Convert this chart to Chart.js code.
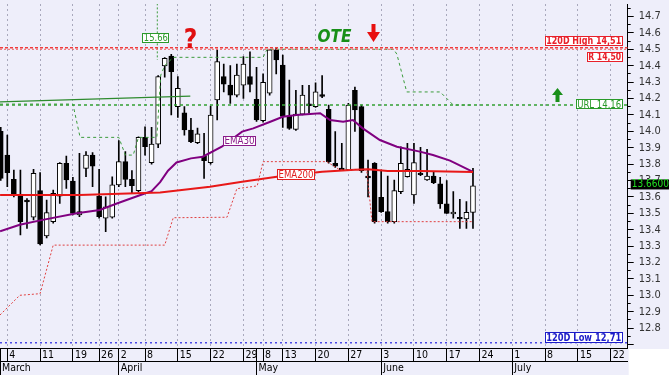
<!DOCTYPE html>
<html><head><meta charset="utf-8">
<script src="https://cdn.jsdelivr.net/npm/chart.js@4.4.1/dist/chart.umd.min.js"></script>
<style>html,body{margin:0;padding:0;background:#fff;overflow:hidden}#wrap{width:669px;height:375px;position:relative}canvas{display:block}</style>
</head><body><div id="wrap"><canvas id="c" width="669" height="375"></canvas></div>
<script>
// ---------- DATA ----------
const firstIndex = -1; // trading-day index of first candle
const openP  = [14.00,13.855,13.707,13.605,13.581,13.476,13.638,13.362,13.449,13.605,13.805,13.697,13.49,13.774,13.855,13.605,13.470,13.476,13.673,13.815,13.707,13.638,13.963,13.809,13.922,14.398,14.459,14.150,14.113,14.008,13.931,13.849,13.809,14.191,14.333,14.282,14.221,14.282,14.333,14.195,14.065,14.232,14.496,14.404,14.093,14.012,14.105,14.168,14.150,14.224,14.134,13.805,13.776,13.764,14.25,14.150,13.727,13.805,13.598,13.510,13.449,13.632,13.723,13.612,13.745,13.703,13.727,13.679,13.557,13.496,13.476,13.466,13.506];
const highP  = [14.024,13.977,13.764,13.764,13.59,13.768,13.748,13.581,13.642,13.81,13.849,13.72,13.866,13.876,13.87,13.768,13.60,13.723,13.944,13.876,13.76,13.967,14.028,14.024,14.34,14.45,14.47,14.333,14.15,14.079,14.02,13.988,14.154,14.496,14.41,14.40,14.41,14.455,14.485,14.39,14.35,14.50,14.51,14.465,14.313,14.25,14.28,14.28,14.296,14.34,14.16,13.998,13.927,14.17,14.27,14.16,13.825,13.81,13.764,13.727,13.703,13.906,13.927,13.927,13.902,13.890,13.75,13.72,13.699,13.632,13.585,13.571,13.774];
const lowP   = [13.70,13.662,13.60,13.368,13.408,13.46,13.307,13.35,13.44,13.561,13.652,13.49,13.48,13.723,13.662,13.47,13.388,13.47,13.662,13.662,13.622,13.63,13.855,13.80,13.90,14.33,14.10,14.085,13.977,13.93,13.925,13.713,13.80,14.069,14.24,14.17,14.21,14.20,14.24,14.06,14.055,14.22,14.35,14.024,14.012,14.005,14.10,14.11,14.145,14.205,13.805,13.78,13.76,13.76,14.0,13.75,13.60,13.44,13.505,13.44,13.44,13.62,13.72,13.561,13.73,13.70,13.68,13.530,13.50,13.470,13.408,13.408,13.408];
const closeP = [13.713,13.748,13.618,13.449,13.570,13.744,13.313,13.504,13.622,13.805,13.703,13.500,13.51,13.855,13.788,13.480,13.540,13.673,13.815,13.707,13.668,13.963,13.906,13.922,14.333,14.445,14.363,14.262,14.008,13.937,13.984,13.821,14.099,14.425,14.288,14.221,14.343,14.410,14.286,14.069,14.299,14.496,14.435,14.091,14.018,14.105,14.221,14.156,14.241,14.212,13.815,13.788,13.764,14.160,14.13,13.760,13.715,13.449,13.510,13.449,13.638,13.805,13.768,13.809,13.735,13.727,13.687,13.557,13.500,13.508,13.466,13.506,13.667];

const ema30Idx = [-1.1,1.9,5.4,10.6,14.1,16.7,20.2,22.0,23.3,24.5,25.8,28.0,29.8,32.7,35.8,37.5,40.1,42.0,44.1,47.7,49.2,51.2,52.7,54.2,56.8,59.4,62.9,64.9,67.5,71.0];
const ema30Val = [13.39,13.43,13.46,13.50,13.52,13.56,13.61,13.635,13.69,13.76,13.81,13.835,13.845,13.906,13.998,14.018,14.058,14.089,14.099,14.11,14.069,14.058,14.069,14.018,13.947,13.906,13.876,13.855,13.821,13.752];
const ema200Idx = [-1.1,11,23.3,30.9,35.8,41.1,48,53,55,58,63,71];
const ema200Val = [13.612,13.612,13.627,13.662,13.693,13.723,13.754,13.765,13.768,13.758,13.758,13.752];
const upperIdx = [-1.11,10.0,11.1,17.0,18.0,19.2,20.0,22.8,23.4,24.0,25.3,39.0,39.6,58.9,59.4,60.9,66.0,68.0,71.0];
const upperVal = [14.166,14.166,13.963,13.963,13.855,13.855,13.963,13.963,14.343,14.40,14.451,14.451,14.50,14.50,14.47,14.24,14.24,14.16,14.16];
const lowerIdx = [-1.11,1.9,5.0,7.0,24.0,25.3,33.5,35.0,38.1,39.0,48.7,50.7,54.8,55.6,71.0];
const lowerVal = [12.88,13.00,13.01,13.306,13.306,13.473,13.476,13.65,13.667,13.815,13.815,13.765,13.765,13.449,13.449];
const trendIdx = [-1.11,27.9];
const trendVal = [14.18,14.215];
const projIdx = [22.87,22.87];
const projVal = [14.78,14.435];

const levelHigh120 = 14.51, levelR = 14.50, levelURL = 14.16, levelLow120 = 12.71, lastPrice = 13.66, projLabel = '15.66';

const dayTickIdx = [-1,0,5,10,14,17,21,26,31,36,38,39,42,47,52,57,62,67,72,77,82,87,92];
const dayTickLbl = ['','4','11','19','26','2','8','15','22','29','','8','13','20','27','3','10','17','24','1','8','15','22'];
const dayTickGrid= [0,1,1,1,1,1,1,1,1,1,0,1,1,1,1,1,1,1,1,1,1,1,1];
const monthTickIdx = [-1.113,17,38,57,77];
const monthTickLbl = ['March','April','May','June','July'];
const yTickVals = [12.7,12.8,12.9,13.0,13.1,13.2,13.3,13.4,13.5,13.6,13.7,13.8,13.9,14.0,14.1,14.2,14.3,14.4,14.5,14.6,14.7];
const yTickLbl  = ['','12.8','12.9','13.0','13.1','13.2','13.3','13.4','13.5','13.6','13.7','13.8','13.9','14.0','14.1','14.2','14.3','14.4','14.5','14.6','14.7'];
const yMinorVals = [12.7,12.75,12.8,12.85,12.9,12.95,13.0,13.05,13.1,13.15,13.2,13.25,13.3,13.35,13.4,13.45,13.5,13.55,13.6,13.65,13.7,13.75,13.8,13.85,13.9,13.95,14.0,14.05,14.1,14.15,14.2,14.25,14.3,14.35,14.4,14.45,14.5,14.55,14.6,14.65,14.7,14.75];

// ---------- CHART ----------
const X_MIN = -1.113, X_MAX = 94.59, Y_MIN = 12.6787, Y_MAX = 14.7762;
const FN = "'Liberation Sans Narrow','DejaVu Sans Condensed','Liberation Sans',Arial,sans-serif";
const BG = '#EEEEFA';
const candleIdx = openP.map((_, i) => firstIndex + i);
const pts = (xs, ys) => xs.map((x, i) => ({x, y: ys[i]}));
const hline = v => [{x: X_MIN, y: v}, {x: X_MAX, y: v}];
const lineDs = (data, color, width, dash, order) => ({type:'line', data, borderColor:color, borderWidth:width, borderDash:dash||[], pointRadius:0, fill:false, tension:0, order:order||1, xAxisID:'x', yAxisID:'y'});
const comma = v => v.toFixed(2).replace('.', ',');

function box(ctx, x1, y1, x2, y2, text, color, bold, size) {
  ctx.save();
  ctx.fillStyle = '#fff';
  ctx.fillRect(x1, y1, x2 - x1, y2 - y1);
  ctx.strokeStyle = color; ctx.lineWidth = 1;
  ctx.strokeRect(Math.round(x1) + 0.5, Math.round(y1) + 0.5, Math.round(x2 - x1) - 1, Math.round(y2 - y1) - 1);
  ctx.fillStyle = color;
  ctx.font = (bold ? 'bold ' : '') + (size || 11) + 'px ' + FN;
  ctx.textAlign = 'center'; ctx.textBaseline = 'middle';
  ctx.fillText(text, (x1 + x2) / 2, (y1 + y2) / 2 + 0.5, x2 - x1 - 3);
  ctx.restore();
}

const decor = {
  id: 'decor',
  beforeDraw(chart) {
    const c = chart.ctx;
    c.save();
    c.fillStyle = BG; c.fillRect(0, 0, chart.width, chart.height);
    c.fillStyle = '#fff'; c.fillRect(chart.chartArea.right + 1, chart.chartArea.bottom + 1, 60, 40);
    c.restore();
  },
  afterDraw(chart) {
    const c = chart.ctx, ys = chart.scales.y, xs = chart.scales.x, a = chart.chartArea;
    const R = a.right - 5;
    let py = ys.getPixelForValue(levelHigh120);
    box(c, R - 78, py - 11.7, R, py - 1.7, '120D High ' + comma(levelHigh120), '#e8202a', true, 11);
    py = ys.getPixelForValue(levelR);
    box(c, R - 36, py + 2.4, R, py + 12.4, 'R ' + comma(levelR), '#e8202a', true, 11);
    py = ys.getPixelForValue(levelURL);
    box(c, R - 47, py - 5.8, R, py + 4.2, 'URL ' + levelURL.toFixed(2), '#2a9a2a', false, 11);
    py = ys.getPixelForValue(levelLow120);
    box(c, R - 78, py - 10.6, R, py + 0.4, '120D Low ' + comma(levelLow120), '#1c1cc8', true, 11);
    const px = xs.getPixelForValue(projIdx[0]);
    box(c, px - 15, 33, px + 12, 43, projLabel, '#2a9a2a', false, 11);
    box(c, 223, 136, 256, 146, 'EMA30', '#8a1a8a', false, 11);
    box(c, 277, 169, 315, 180, 'EMA200', '#e02020', false, 11);
    // last price tag
    py = ys.getPixelForValue(lastPrice);
    c.save();
    c.fillStyle = '#000'; c.fillRect(a.right + 3, py - 7.6, 45, 10);
    c.fillStyle = '#22e022'; c.font = '10px ' + FN; c.textAlign = 'left'; c.textBaseline = 'middle';
    c.fillText(lastPrice.toFixed(5), a.right + 4, py - 2.3);
    // OTE
    c.fillStyle = '#178f17'; c.font = 'italic bold 17px ' + FN; c.textAlign = 'center'; c.textBaseline = 'alphabetic';
    c.fillText('OTE', 334.5, 42, 36);
    // ?
    c.fillStyle = '#e01010'; c.font = 'bold 26px ' + FN;
    c.fillText('?', 190.5, 47.5, 14);
    // red down arrow
    c.fillStyle = '#e81010';
    c.beginPath(); c.moveTo(371.5, 24); c.lineTo(375.5, 24); c.lineTo(375.5, 32); c.lineTo(380, 32); c.lineTo(373.5, 42); c.lineTo(367, 32); c.lineTo(371.5, 32); c.closePath(); c.fill();
    // green up arrow
    c.fillStyle = '#1a8f1a';
    c.beginPath(); c.moveTo(557.5, 88); c.lineTo(563, 95); c.lineTo(559.5, 95); c.lineTo(559.5, 102); c.lineTo(555.5, 102); c.lineTo(555.5, 95); c.lineTo(552, 95); c.closePath(); c.fill();
    c.restore();
  }
};

new Chart(document.getElementById('c'), {
  type: 'bar',
  data: {
    datasets: [
      {type:'bar', label:'wick', data: candleIdx.map((x, i) => ({x, y:[lowP[i], highP[i]]})), backgroundColor:'#000', borderWidth:0, barThickness:1, grouped:false, order:3, xAxisID:'x', yAxisID:'y'},
      {type:'bar', label:'body', data: candleIdx.map((x, i) => ({x, y:[openP[i], closeP[i]]})),
        backgroundColor: ctx => closeP[ctx.dataIndex] >= openP[ctx.dataIndex] ? '#fff' : '#000',
        borderColor:'#000', borderWidth:1, borderSkipped:false, barThickness:5, grouped:false, order:2, xAxisID:'x', yAxisID:'y'},
      lineDs(hline(levelHigh120), '#f03c3c', 1.5, [3,2]),
      lineDs(hline(levelR), '#f06464', 1, [2,2]),
      lineDs(hline(levelURL), '#33a033', 1.5, [3,3]),
      lineDs(hline(levelLow120), '#4a4ae6', 1.5, [2,3]),
      lineDs(pts(upperIdx, upperVal), '#3c9c3c', 1, [3,3]),
      lineDs(pts(lowerIdx, lowerVal), '#e04040', 1, [2,2]),
      lineDs(pts(trendIdx, trendVal), '#2e8b2e', 1.2),
      lineDs(pts(projIdx, projVal), '#3c9c3c', 1, [2,2]),
      lineDs(pts(ema200Idx, ema200Val), '#e81818', 2),
      lineDs(pts(ema30Idx, ema30Val), '#800080', 2)
    ]
  },
  options: {
    responsive:false, animation:false, devicePixelRatio:1, events:[],
    layout:{padding:{top:4, left:0, right:0, bottom:0}},
    plugins:{legend:{display:false}, tooltip:{enabled:false}},
    scales: {
      x: { type:'linear', position:'bottom', weight:0, min:X_MIN, max:X_MAX, offset:false,
        afterBuildTicks: s => { s.ticks = dayTickIdx.map(v => ({value:v})); },
        afterFit: s => { s.height = 13; s.paddingLeft = 0; s.paddingRight = 0; },
        grid: { display:true, drawOnChartArea:true, offset:false, lineWidth:1,
          color: ctx => dayTickGrid[ctx.index] ? '#a8a8bc' : 'rgba(0,0,0,0)',
          drawTicks:true, tickLength:13, tickColor:'#000', tickWidth:1, tickBorderDash:[] },
        border: { display:true, color:'#000', width:1, dash:[2,3] },
        ticks: { autoSkip:false, maxRotation:0, minRotation:0, align:'start', labelOffset:2, padding:-12.5, color:'#000',
          font:{family:FN, size:10.5}, callback:(v, i) => dayTickLbl[i] }
      },
      xm: { type:'linear', position:'bottom', weight:1, min:X_MIN, max:X_MAX, offset:false,
        afterBuildTicks: s => { s.ticks = monthTickIdx.map(v => ({value:v})); },
        afterFit: s => { s.height = 14; s.paddingLeft = 0; s.paddingRight = 0; },
        grid: { display:true, offset:false, drawOnChartArea:false, drawTicks:true, tickLength:14, tickColor:'#000', tickWidth:1, color:'#000', tickBorderDash:[] },
        border: { display:true, color:'#000', width:1 },
        ticks: { autoSkip:false, maxRotation:0, minRotation:0, align:'start', labelOffset:2, padding:-13, color:'#000',
          font:{family:FN, size:10.5}, callback:(v, i) => monthTickLbl[i] }
      },
      ym: { type:'linear', position:'right', weight:0, min:Y_MIN, max:Y_MAX,
        afterBuildTicks: s => { s.ticks = yMinorVals.map(v => ({value:v})); },
        afterFit: s => { s.width = 0; s.paddingTop = 0; s.paddingBottom = 0; },
        grid: { display:true, drawOnChartArea:false, drawTicks:true, tickLength:3, tickColor:'#000', tickWidth:1 },
        border: { display:false },
        ticks: { display:false }
      },
      y: { type:'linear', position:'right', weight:1, min:Y_MIN, max:Y_MAX,
        afterBuildTicks: s => { s.ticks = yTickVals.map(v => ({value:v})); },
        afterFit: s => { s.width = 41.3; s.paddingTop = 0; s.paddingBottom = 0; },
        grid: { display:true, drawOnChartArea:false, drawTicks:true, tickLength:6, tickColor:'#000', tickWidth:1 },
        border: { display:true, color:'#000', width:1 },
        ticks: { padding:5, color:'#333', font:{family:FN, size:11}, callback:(v, i) => yTickLbl[i] }
      }
    }
  },
  plugins:[decor]
});
</script>
</body></html>
